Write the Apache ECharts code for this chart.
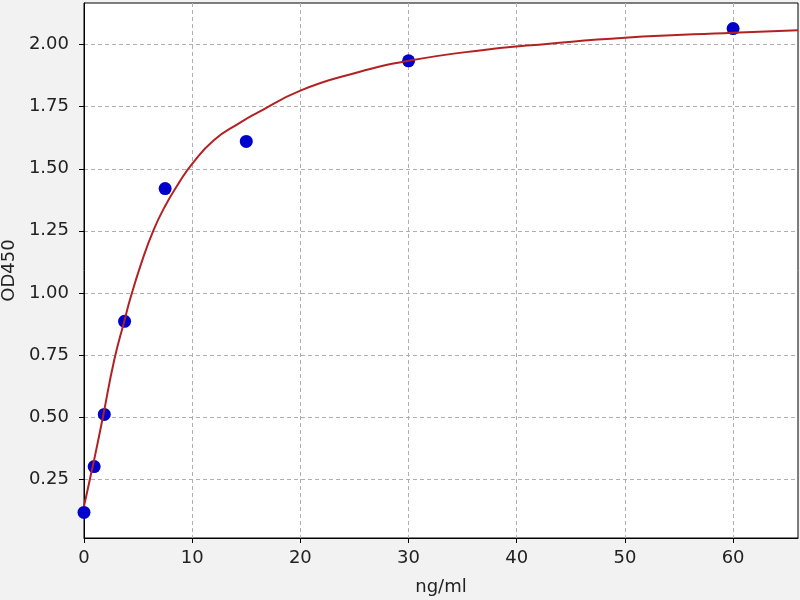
<!DOCTYPE html>
<html>
<head>
<meta charset="utf-8">
<script src="https://cdn.jsdelivr.net/npm/echarts@6/dist/echarts.min.js"></script>
<style>
  html, body { margin: 0; padding: 0; background: #f2f2f2; }
  #chart { width: 800px; height: 600px; }
</style>
</head>
<body>
<div id="chart"></div>
<script>
// measured standards
var concX = [0, 0.94, 1.875, 3.75, 7.5, 15, 30, 60];
var odY = [0.115, 0.30, 0.51, 0.885, 1.42, 1.61, 1.935, 2.065];

// fitted curve
var curveX = [0, 0.55, 1.0, 1.75, 2.8, 3.75, 4.3, 5.3, 6.4, 7.5, 8.8, 10, 12, 14.4, 16, 20, 25, 30, 36.6, 43, 50, 60, 66];
var curveY = [0.14, 0.25, 0.34, 0.50, 0.73, 0.89, 0.98, 1.12, 1.25, 1.35, 1.445, 1.52, 1.615, 1.685, 1.725, 1.815, 1.885, 1.935, 1.977, 2.004, 2.028, 2.048, 2.058];

var xTicks = [0, 10, 20, 30, 40, 50, 60];
var yTicks = [0.25, 0.50, 0.75, 1.00, 1.25, 1.50, 1.75, 2.00];

var chart = echarts.init(document.getElementById('chart'));

var font = 'DejaVu Sans';
var gridLine = { show: true, lineStyle: { color: '#b0b0b0', type: [4, 3], width: 1 } };

chart.setOption({
  backgroundColor: '#f2f2f2',
  animation: false,
  grid: {
    left: 84, right: 2, top: 3, bottom: 62,
    outerBoundsMode: 'none', containLabel: false,
    show: true, backgroundColor: '#ffffff', borderColor: '#000', borderWidth: 1
  },
  xAxis: {
    type: 'value', min: 0, max: 66,
    name: 'ng/ml', nameLocation: 'middle', nameGap: 40,
    nameTextStyle: { fontFamily: font, fontSize: 18, color: '#222' },
    axisLine: { show: true, lineStyle: { color: '#000', width: 1 } },
    axisTick: { show: true, inside: false, length: 5, customValues: xTicks, lineStyle: { color: '#000' } },
    axisLabel: { customValues: xTicks, fontFamily: font, fontSize: 18, color: '#222', margin: 11 },
    splitLine: gridLine
  },
  yAxis: {
    type: 'value', min: 0.012, max: 2.168,
    name: 'OD450', nameLocation: 'middle', nameGap: 66,
    nameTextStyle: { fontFamily: font, fontSize: 18, color: '#222' },
    axisLine: { show: true, lineStyle: { color: '#000', width: 1 } },
    axisTick: { show: true, inside: false, length: 5, customValues: yTicks, lineStyle: { color: '#000' } },
    axisLabel: {
      customValues: yTicks, fontFamily: font, fontSize: 18, color: '#222', margin: 15,
      formatter: function (v) { return v.toFixed(2); }
    },
    splitLine: gridLine
  },
  series: [
    {
      type: 'scatter',
      data: concX.map(function (x, i) { return [x, odY[i]]; }),
      symbolSize: 13,
      itemStyle: { color: '#0000cc', opacity: 1 },
      z: 2
    },
    {
      type: 'line',
      data: curveX.map(function (x, i) { return [x, curveY[i]]; }),
      smooth: 0.5,
      showSymbol: false,
      lineStyle: { color: '#b22222', width: 2 },
      z: 3
    }
  ]
});
</script>
</body>
</html>
